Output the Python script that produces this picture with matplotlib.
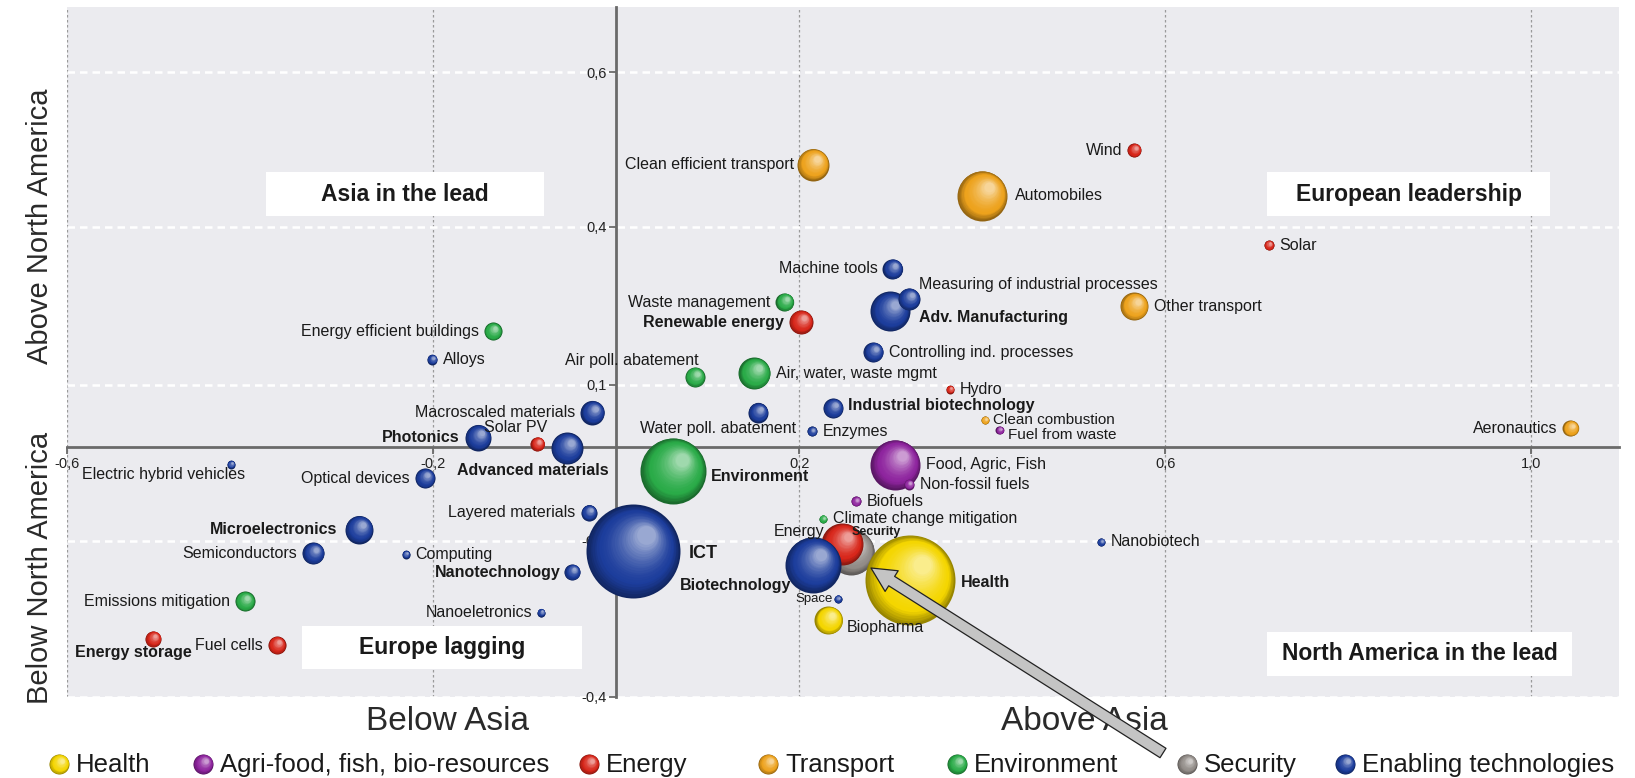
import numpy as np
import matplotlib
matplotlib.use('Agg')
import matplotlib.pyplot as plt
from matplotlib.colors import to_rgb
from matplotlib.patches import Rectangle

plt.rcParams['font.family'] = ['Liberation Sans', 'DejaVu Sans']

W, H = 1635, 778

# --- data ---
names = ['Wind', 'Solar', 'Clean efficient transport', 'Automobiles', 'Machine tools',
         'Adv. Manufacturing', 'Measuring of industrial processes', 'Other transport',
         'Waste management', 'Renewable energy', 'Controlling ind. processes',
         'Energy efficient buildings', 'Alloys', 'Air poll. abatement', 'Air, water, waste mgmt',
         'Hydro', 'Macroscaled materials', 'Water poll. abatement', 'Industrial biotechnology',
         'Clean combustion', 'Fuel from waste', 'Enzymes', 'Aeronautics', 'Photonics',
         'Solar PV', 'Advanced materials', 'Electric hybrid vehicles', 'Environment',
         'Food, Agric, Fish', 'Optical devices', 'Non-fossil fuels', 'Biofuels',
         'Climate change mitigation', 'Layered materials', 'Microelectronics', 'Semiconductors',
         'Computing', 'ICT', 'Security', 'Energy', 'Nanobiotech', 'Nanotechnology',
         'Biotechnology', 'Health', 'Space', 'Emissions mitigation', 'Nanoeletronics',
         'Biopharma', 'Energy storage', 'Fuel cells']
x_vals = [0.566, 0.713, 0.215, 0.400, 0.302, 0.299, 0.320, 0.566, 0.184, 0.202, 0.281,
          -0.135, -0.201, 0.086, 0.151, 0.365, -0.026, 0.155, 0.237, 0.403, 0.419, 0.214,
          1.043, -0.151, -0.086, -0.054, -0.421, 0.062, 0.305, -0.209, 0.320, 0.262, 0.226,
          -0.030, -0.281, -0.331, -0.230, 0.018, 0.257, 0.247, 0.530, -0.048, 0.215, 0.321,
          0.242, -0.406, -0.082, 0.232, -0.506, -0.371]
y_vals = [0.475, 0.323, 0.452, 0.402, 0.285, 0.217, 0.237, 0.225, 0.232, 0.200, 0.152,
          0.185, 0.140, 0.112, 0.118, 0.092, 0.055, 0.055, 0.062, 0.043, 0.027, 0.025,
          0.030, 0.015, 0.005, -0.002, -0.028, -0.038, -0.028, -0.050, -0.060, -0.087,
          -0.115, -0.105, -0.132, -0.170, -0.172, -0.167, -0.168, -0.155, -0.152, -0.200,
          -0.188, -0.213, -0.243, -0.247, -0.265, -0.277, -0.307, -0.317]
bubble_size = [7, 5, 16, 25, 10, 20, 11, 14, 9, 12, 10, 9, 5, 10, 16, 4, 12, 10, 10, 4, 4,
               5, 8, 13, 7, 16, 4, 33, 25, 10, 5, 5, 4, 8, 14, 11, 4, 47, 23, 21, 4, 8, 28,
               45, 4, 10, 4, 14, 8, 9]
groups = ['Energy', 'Energy', 'Transport', 'Transport', 'Enabling technologies',
          'Enabling technologies', 'Enabling technologies', 'Transport', 'Environment', 'Energy',
          'Enabling technologies', 'Environment', 'Enabling technologies', 'Environment',
          'Environment', 'Energy', 'Enabling technologies', 'Enabling technologies',
          'Enabling technologies', 'Transport', 'Agri-food, fish, bio-resources',
          'Enabling technologies', 'Transport', 'Enabling technologies', 'Energy',
          'Enabling technologies', 'Enabling technologies', 'Environment',
          'Agri-food, fish, bio-resources', 'Enabling technologies',
          'Agri-food, fish, bio-resources', 'Agri-food, fish, bio-resources', 'Environment',
          'Enabling technologies', 'Enabling technologies', 'Enabling technologies',
          'Enabling technologies', 'Enabling technologies', 'Security', 'Energy',
          'Enabling technologies', 'Enabling technologies', 'Enabling technologies', 'Health',
          'Enabling technologies', 'Environment', 'Enabling technologies', 'Health', 'Energy',
          'Energy']

group_names = ['Health', 'Agri-food, fish, bio-resources', 'Energy', 'Transport',
               'Environment', 'Security', 'Enabling technologies']
group_colors = ['#f4d600', '#8e249e', '#d8261a', '#eda21c', '#2aab48', '#918b87', '#1c3d9c']

xticks = [-0.6, -0.2, 0.2, 0.6, 1.0]
xtick_labels = ['-0,6', '-0,2', '0,2', '0,6', '1,0']
yticks = [0.6, 0.352, 0.1, -0.15, -0.4]
ytick_labels = ['0,6', '0,4', '0,1', '-0,2', '-0,4']

# label placement: (ha, dx, dy) in pixels; dx None = just beside the bubble
label_pos = {
    'Wind': ('right', None, 0), 'Clean efficient transport': ('right', -19, 0),
    'Automobiles': ('left', 33, 0), 'Machine tools': ('right', None, 0),
    'Measuring of industrial processes': ('left', 10, 14),
    'Adv. Manufacturing': ('left', 29, -6), 'Waste management': ('right', None, 0),
    'Renewable energy': ('right', None, 0), 'Energy efficient buildings': ('right', None, 0),
    'Air poll. abatement': ('right', 4, 16), 'Macroscaled materials': ('right', None, 0),
    'Water poll. abatement': ('center', -40, -16), 'Aeronautics': ('right', None, 0),
    'Photonics': ('right', -18, 0), 'Solar PV': ('center', -22, 16),
    'Advanced materials': ('center', -34, -22), 'Electric hybrid vehicles': ('right', 14, -10),
    'Environment': ('left', 38, -6), 'Food, Agric, Fish': ('left', 31, 0),
    'Optical devices': ('right', None, 0), 'Layered materials': ('right', None, 0),
    'Microelectronics': ('right', -22, 0), 'Semiconductors': ('right', None, 0),
    'ICT': ('left', 56, -2), 'Energy': ('right', -18, 12), 'Security': ('left', 0, 20),
    'Nanotechnology': ('right', -12, 0), 'Biotechnology': ('right', -22, -21),
    'Health': ('left', 51, -2), 'Space': ('right', -5, 0),
    'Emissions mitigation': ('right', None, 0), 'Nanoeletronics': ('right', None, 0),
    'Biopharma': ('left', 18, -7), 'Energy storage': ('center', -20, -14),
    'Fuel cells': ('right', None, 0), 'Clean combustion': ('left', 8, 0),
    'Fuel from waste': ('left', 9, -5), 'Industrial biotechnology': ('left', 15, 3),
}
small_labels = {'Clean combustion': 11, 'Fuel from waste': 11, 'Security': 9, 'Space': 9.5,
                'ICT': 13}
bold_labels = {'Adv. Manufacturing', 'Renewable energy', 'Industrial biotechnology', 'Photonics',
               'Advanced materials', 'Environment', 'Microelectronics', 'ICT', 'Security',
               'Nanotechnology', 'Biotechnology', 'Health', 'Energy storage'}
# drawing order tweaks for the overlapping cluster
stack_over = {'Security': 3.40, 'Energy': 3.41, 'Biotechnology': 3.42, 'Health': 3.43}


def shade(c, t):
    c = np.array(to_rgb(c))
    dark = c * 0.62
    light = c + (1 - c) * 0.55
    if t < 0.25:
        u = t / 0.25
        return dark * (1 - u) + c * u
    u = ((t - 0.25) / 0.75) ** 1.6
    return c * (1 - u) + light * u


def sphere(ax, x, y, r, color, z, n=24):
    cx, cy = ax.transData.transform((x, y))
    inv = ax.transData.inverted()
    for k in range(n):
        t = k / (n - 1)
        rr = r * (1 - 0.8 * t)
        px, py = inv.transform((cx + 0.28 * r * t, cy + 0.34 * r * t))
        ax.scatter(px, py, s=(2 * rr * 72 / 100) ** 2, color=shade(color, t), lw=0,
                   zorder=z + k * 1e-4, clip_on=False)


fig = plt.figure(figsize=(W / 100, H / 100), dpi=100)
ax = fig.add_axes([67 / W, 1 - 697 / H, (1619 - 67) / W, (697 - 7) / H])
ax.set_facecolor('#ebebef')
ax.set_xlim(-0.6, 1.096)
ax.set_ylim(-0.4, 0.704)

for s in ['top', 'right']:
    ax.spines[s].set_visible(False)
for s in ['left', 'bottom']:
    ax.spines[s].set_position(('data', 0))
    ax.spines[s].set_color('#6a6a6a')
    ax.spines[s].set_linewidth(2)

ax.set_xticks(xticks)
ax.set_xticklabels(xtick_labels)
ax.set_yticks(yticks)
ax.set_yticklabels(ytick_labels)
ax.tick_params(direction='out', length=5, width=1.3, color='#6a6a6a', labelsize=10.5,
               labelcolor='#222222', pad=2)
ax.xaxis.grid(True, color='#9a9a9a', ls=(0, (2, 2)), lw=0.9)
ax.yaxis.grid(True, color='white', ls=(0, (3, 2)), lw=1.8)
ax.set_axisbelow(True)

color_of = dict(zip(group_names, group_colors))
for name, x, y, r, g in zip(names, x_vals, y_vals, bubble_size, groups):
    z = stack_over.get(name, 3 + (50 - r) / 100)
    sphere(ax, x, y, r, color_of[g], z)
    ha, dx, dy = label_pos.get(name, ('left', None, 0))
    if dx is None:
        dx = -(r + 5) if ha == 'right' else r + 6
    ax.annotate(name, (x, y), xytext=(dx, dy), textcoords='offset pixels', ha=ha,
                va='center', fontsize=small_labels.get(name, 11.5), color='#1a1a1a',
                fontweight='bold' if name in bold_labels else 'normal', zorder=20)

# overlay in figure pixels for boxes, axis captions, legend and arrow
ov = fig.add_axes([0, 0, 1, 1])
ov.set_xlim(0, W)
ov.set_ylim(H, 0)
ov.axis('off')
ov.patch.set_alpha(0)
ov.set_zorder(5)

quadrants = [('Asia in the lead', 266, 172, 544, 216),
             ('European leadership', 1267, 172, 1550, 216),
             ('Europe lagging', 302, 626, 582, 669),
             ('North America in the lead', 1267, 632, 1572, 676)]
for txt, x0, y0, x1, y1 in quadrants:
    ov.add_patch(Rectangle((x0, y0), x1 - x0, y1 - y0, fc='white', ec='none'))
    ov.text((x0 + x1) / 2, (y0 + y1) / 2, txt, ha='center', va='center', fontsize=16.5,
            fontweight='bold', color='#1a1a1a')

ov.text(448, 722, 'Below Asia', ha='center', va='center', fontsize=24, color='#2a2a2a')
ov.text(1084, 722, 'Above Asia', ha='center', va='center', fontsize=24, color='#2a2a2a')
ov.text(40, 226, 'Above North America', ha='center', va='center', rotation=90, fontsize=21,
        color='#2a2a2a')
ov.text(40, 568, 'Below North America', ha='center', va='center', rotation=90, fontsize=21,
        color='#2a2a2a')

leg_marker_x = [59, 203, 589, 768, 957, 1187, 1345]
for g, c, mx in zip(group_names, group_colors, leg_marker_x):
    sphere(ov, mx, 764, 10, c, 6)
    ov.text(mx + 17, 765, g, ha='left', va='center', fontsize=18.5, color='#1a1a1a')

ov.annotate('', xy=(871, 568), xytext=(1163, 753),
            arrowprops=dict(arrowstyle='simple,head_length=1.1,head_width=1.1,tail_width=0.5',
                            fc='#c4c4c4', ec='#222222', lw=0.9, mutation_scale=16,
                            shrinkA=0, shrinkB=0), zorder=30)

fig.savefig('out.png', dpi=100, facecolor='white')
